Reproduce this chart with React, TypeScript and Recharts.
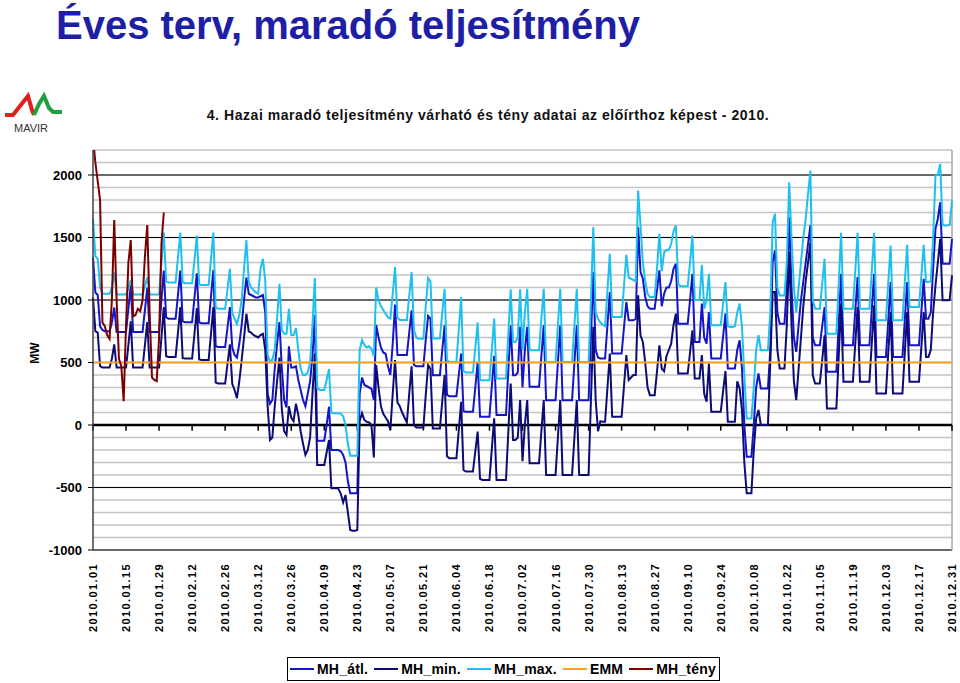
import React from "react";
import { CartesianGrid, Line, LineChart, ReferenceLine, XAxis, YAxis } from "recharts";

// napi értékek 2010.01.01 (péntek) – 2010.12.31, hetente tördelve (H–V)
const MH_MAX = [
  1650, 1350, 1330,
  1100, 1050, 1050, 1050, 1050, 1100, 1220,
  1045, 1045, 1045, 1045, 1045, 1100, 1160,
  1045, 1045, 1045, 1045, 1045, 1110, 1180,
  1045, 1045, 1045, 1045, 1045, 1300, 1540,
  1150, 1140, 1140, 1140, 1140, 1340, 1540,
  1140, 1135, 1135, 1135, 1135, 1320, 1515,
  1125, 1120, 1120, 1120, 1120, 1330, 1540,
  940, 930, 930, 930, 930, 1090, 1250,
  900, 850, 810, 880, 1000, 1250, 1480,
  1150, 1100, 1080, 1060, 1050, 1250, 1330,
  1150, 560, 510, 520, 600, 850, 1130,
  760, 730, 730, 930, 720, 720, 775,
  600, 450, 400, 400, 420, 500, 800,
  1176, 300, 280, 280, 280, 360, 447,
  100, 95, 95, 95, 90, 70, 0,
  -150, -245, -245, -245, -245, 600, 680,
  640, 620, 630, 610, 550, 1100, 1000,
  950, 920, 890, 860, 850, 1050, 1264,
  860, 840, 840, 840, 840, 1030, 1224,
  760, 700, 690, 690, 690, 950, 1176,
  1150, 692, 692, 692, 692, 900, 1090,
  520, 505, 505, 505, 505, 760, 1024,
  430, 420, 420, 420, 420, 620, 819,
  360, 359, 359, 359, 359, 600, 851,
  372, 372, 372, 372, 372, 730, 1085,
  665, 665, 700, 1085, 600, 900, 1090,
  598, 598, 598, 598, 598, 850, 1090,
  505, 505, 505, 505, 505, 800, 1090,
  505, 505, 505, 505, 505, 800, 1090,
  505, 505, 505, 505, 505, 1000, 1583,
  900, 850, 820, 800, 790, 1080, 1370,
  865, 865, 865, 865, 865, 1110, 1362,
  1180, 1170, 1160, 1150, 1875, 1600, 1300,
  1150, 1050, 1024, 1024, 1024, 1250, 1530,
  1230, 1380, 1400, 1400, 1450, 1550, 1596,
  1130, 1110, 1110, 1110, 1110, 1300, 1516,
  1000, 1000, 1000, 1282, 930, 1000, 1210,
  798, 798, 798, 798, 798, 970, 1144,
  790, 785, 785, 790, 900, 971, 785,
  400, 53, 53, 53, 300, 600, 718,
  598, 598, 598, 598, 900, 1623, 1689,
  1100, 1037, 1037, 1037, 1300, 1942, 1500,
  1100, 900, 1100, 1300, 1500, 1650, 1850,
  2035, 1000, 931, 931, 931, 1130, 1330,
  731, 731, 731, 731, 731, 1130, 1537,
  931, 931, 931, 931, 931, 1230, 1537,
  931, 931, 931, 931, 931, 1230, 1537,
  838, 838, 838, 838, 838, 1140, 1436,
  838, 838, 838, 838, 838, 1140, 1442,
  944, 944, 944, 944, 944, 1190, 1442,
  1144, 1144, 1150, 1500, 1995, 2000, 2088,
  1600, 1596, 1596, 1600, 1796,
];

const MH_ATL = [
  1340, 1060, 1040,
  790, 760, 750, 750, 750, 820, 940,
  745, 745, 745, 745, 745, 930, 1120,
  745, 745, 745, 745, 745, 920, 1100,
  745, 745, 745, 745, 745, 1000, 1235,
  860, 850, 850, 850, 850, 1040, 1235,
  830, 823, 823, 823, 823, 1020, 1214,
  820, 815, 815, 815, 815, 1030, 1240,
  630, 624, 624, 624, 624, 780, 943,
  620, 560, 540, 650, 800, 1000, 1180,
  1050, 1040, 1030, 1020, 1020, 1030, 1040,
  900, 250, 170, 200, 450, 650, 823,
  460, 200, 140, 630, 460, 460, 470,
  360, 280, 200, 150, 250, 350, 550,
  878, -125, -125, -125, -125, 0, 146,
  -200, -200, -200, -200, -210, -240, -300,
  -450, -545, -545, -545, -545, 250, 380,
  320, 310, 300, 290, 200, 800, 700,
  620, 580, 570, 470, 400, 650, 964,
  560, 560, 560, 560, 560, 740, 918,
  480, 470, 470, 470, 470, 680, 872,
  850, 399, 399, 399, 399, 600, 798,
  240, 230, 230, 230, 230, 400, 572,
  110, 106, 106, 106, 106, 300, 505,
  66, 66, 66, 66, 66, 310, 553,
  80, 80, 80, 80, 80, 440, 798,
  399, 399, 420, 785, 300, 600, 785,
  306, 306, 306, 306, 306, 550, 798,
  199, 199, 199, 199, 199, 500, 798,
  199, 199, 199, 199, 199, 500, 798,
  199, 199, 199, 199, 199, 700, 1224,
  600, 540, 532, 532, 532, 800, 1064,
  572, 572, 572, 572, 572, 780, 984,
  838, 838, 838, 850, 1583, 1224, 1170,
  1024, 950, 931, 931, 931, 1080, 1237,
  950, 1050, 1100, 1100, 1150, 1250, 1290,
  811, 811, 811, 811, 811, 1000, 1210,
  665, 665, 665, 971, 700, 650, 904,
  532, 532, 532, 532, 532, 710, 891,
  452, 452, 452, 452, 600, 678, 450,
  0, -253, -253, -253, 0, 300, 412,
  293, 293, 293, 293, 600, 1303, 1397,
  900, 811, 811, 811, 1100, 1662, 1100,
  700, 585, 800, 1000, 1150, 1300, 1450,
  1600, 700, 638, 638, 638, 790, 944,
  426, 426, 426, 426, 426, 820, 1210,
  638, 638, 638, 638, 638, 910, 1184,
  638, 638, 638, 638, 638, 920, 1210,
  545, 545, 545, 545, 545, 840, 1144,
  545, 545, 545, 545, 545, 840, 1144,
  638, 638, 638, 638, 638, 900, 1170,
  851, 851, 900, 1250, 1569, 1650, 1782,
  1290, 1290, 1290, 1290, 1490,
];

const MH_MIN = [
  1020, 750, 740,
  470, 460, 460, 460, 460, 530, 645,
  460, 460, 460, 460, 460, 640, 830,
  460, 460, 460, 460, 460, 640, 823,
  460, 460, 460, 460, 460, 700, 943,
  550, 545, 545, 545, 545, 740, 943,
  535, 532, 532, 532, 532, 730, 935,
  525, 520, 520, 520, 520, 730, 943,
  340, 332, 332, 332, 332, 490, 645,
  330, 280, 215, 350, 520, 700, 890,
  750, 740, 720, 710, 700, 720, 730,
  600, 150, -120, -100, 150, 350, 540,
  130, -50, -80, 150, 60, 30, 170,
  80, -50, -150, -240, -200, -100, 250,
  572, -319, -319, -319, -319, -220, -120,
  -505, -505, -505, -510, -550, -620, -560,
  -700, -840, -845, -845, -840, 30, 95,
  40, 25, 20, 0, -260, 480, 300,
  150, 90, 60, 30, -40, 250, 520,
  180, 150, 100, 60, 20, 250, 470,
  0, -20, -20, -20, -20, 240, 479,
  450, -27, -27, -27, -27, 190, 399,
  -250, -266, -266, -266, -266, -40, 186,
  -360, -372, -372, -372, -372, -210, -53,
  -430, -439, -439, -439, -439, -190, 53,
  -439, -439, -439, -439, -439, -50, 332,
  -120, -120, -100, 199, -290, 0, 199,
  -306, -306, -306, -306, -306, -50, 199,
  -399, -399, -399, -399, -399, -100, 199,
  -399, -399, -399, -399, -399, -100, 199,
  -399, -399, -399, -399, -399, 200, 785,
  200, -50, 30, 27, 27, 300, 572,
  66, 66, 66, 66, 66, 310, 559,
  360, 380, 400, 400, 1037, 718, 665,
  500, 300, 239, 239, 239, 430, 638,
  450, 430, 550, 600, 650, 800, 891,
  412, 412, 412, 412, 412, 580, 758,
  372, 372, 372, 560, 250, 186, 492,
  106, 106, 106, 106, 106, 270, 431,
  27, 27, 27, 27, 350, 293, 120,
  -300, -545, -545, -545, -200, 50, 120,
  0, 0, 0, 0, 500, 1064, 1064,
  600, 452, 452, 452, 800, 1383, 800,
  350, 199, 450, 700, 950, 1150, 1300,
  1460, 400, 332, 332, 332, 520, 718,
  133, 133, 133, 133, 133, 550, 971,
  346, 346, 346, 346, 346, 650, 944,
  346, 346, 346, 346, 346, 650, 958,
  253, 253, 253, 253, 253, 580, 904,
  253, 253, 253, 253, 253, 580, 904,
  346, 346, 346, 346, 346, 620, 904,
  545, 545, 600, 900, 1117, 1300, 1490,
  998, 998, 998, 1000, 1197,
];

// tény adatok január végéig
const MH_TENY = [
  2300, 2100, 1950, 1800, 820, 790, 720, 690, 1000, 1640, 1000,
  530, 470, 190, 800, 1300, 1480, 870, 880, 930, 910, 1000,
  1350, 1600, 900, 380, 360, 350, 700, 1450, 1700,
];

const EMM_LEVEL = 500;

const X_DOMAIN = [0, 364];
const X_TICK_DAYS = [
  0, 14, 28, 42, 56, 70, 84, 98, 112, 126, 140, 154, 168, 182,
  196, 210, 224, 238, 252, 266, 280, 294, 308, 322, 336, 350, 364,
];
const X_TICK_LABELS = [
  "2010.01.01", "2010.01.15", "2010.01.29", "2010.02.12", "2010.02.26",
  "2010.03.12", "2010.03.26", "2010.04.09", "2010.04.23", "2010.05.07",
  "2010.05.21", "2010.06.04", "2010.06.18", "2010.07.02", "2010.07.16",
  "2010.07.30", "2010.08.13", "2010.08.27", "2010.09.10", "2010.09.24",
  "2010.10.08", "2010.10.22", "2010.11.05", "2010.11.19", "2010.12.03",
  "2010.12.17", "2010.12.31",
];

const Y_DOMAIN = [-1000, 2200];
const Y_TICKS = [
  -1000, -900, -800, -700, -600, -500, -400, -300, -200, -100, 0,
  100, 200, 300, 400, 500, 600, 700, 800, 900, 1000, 1100, 1200,
  1300, 1400, 1500, 1600, 1700, 1800, 1900, 2000, 2100, 2200,
];
const Y_MAJOR = [-1000, -500, 1000, 1500, 2000];

const COLORS = {
  atl: "#1414c8",
  min: "#0c0c74",
  max: "#1ec0f0",
  emm: "#f5a21e",
  teny: "#7a0000",
};

const LEGEND = [
  { name: "MH_átl.", color: COLORS.atl },
  { name: "MH_min.", color: COLORS.min },
  { name: "MH_max.", color: COLORS.max },
  { name: "EMM", color: COLORS.emm },
  { name: "MH_tény", color: COLORS.teny },
];

const chartData = MH_MAX.map((_, day) => ({
  day,
  atl: MH_ATL[day],
  min: MH_MIN[day],
  max: MH_MAX[day],
}));
const tenyData = MH_TENY.map((teny, day) => ({ day, teny }));
const emmData = X_DOMAIN.map((day) => ({ day, emm: EMM_LEVEL }));

const FONT = '"Liberation Sans", Arial, sans-serif';

function XTick(props: any) {
  const { x, y, payload } = props;
  const i = X_TICK_DAYS.indexOf(payload.value);
  return (
    <g transform={`translate(${x},${y + 13})`}>
      <text
        transform="rotate(-90)"
        textAnchor="end"
        dy="0.36em"
        fontSize={11}
        fontWeight="bold"
        letterSpacing={1.4}
        fill="#000"
        fontFamily={FONT}
      >
        {X_TICK_LABELS[i]}
      </text>
    </g>
  );
}

function YTick(props: any) {
  const { x, y, payload } = props;
  if (payload.value % 500 !== 0) return <g />;
  return (
    <g>
      <line x1={x - 5} x2={x} y1={y} y2={y} stroke="#000" />
      <text
        x={x - 11}
        y={y}
        dy="0.36em"
        textAnchor="end"
        fontSize={13}
        fontWeight="bold"
        fill="#000"
        fontFamily={FONT}
      >
        {payload.value}
      </text>
    </g>
  );
}

function Logo() {
  return (
    <svg width={70} height={45} style={{ position: "absolute", left: 0, top: 92 }}>
      <polyline
        points="5,23 13,23 20,14 28,4 32,18 34,23"
        fill="none"
        stroke="#e02020"
        strokeWidth={4}
      />
      <polyline
        points="34,23 39,12 44,4 49,16 53,20 62,20"
        fill="none"
        stroke="#20a040"
        strokeWidth={4}
      />
      <text x={14} y={40} fontSize={11} fill="#333" fontFamily={FONT}>
        MAVIR
      </text>
    </svg>
  );
}

export default function App() {
  return (
    <div
      style={{
        position: "absolute",
        left: 0,
        top: 0,
        width: 960,
        height: 683,
        background: "#fff",
        fontFamily: FONT,
        overflow: "hidden",
      }}
    >
      <div
        style={{
          position: "absolute",
          left: 56,
          top: 3,
          fontSize: 40,
          lineHeight: "44px",
          fontWeight: "bold",
          color: "#1e1ea6",
          whiteSpace: "nowrap",
        }}
      >
        Éves terv, maradó teljesítmény
      </div>

      <Logo />

      <div
        style={{
          position: "absolute",
          left: 0,
          width: 976,
          top: 107,
          textAlign: "center",
          fontSize: 14,
          letterSpacing: 0.55,
          fontWeight: "bold",
          color: "#111",
          whiteSpace: "nowrap",
        }}
      >
        4. Hazai maradó teljesítmény várható és tény adatai az előírthoz képest - 2010.
      </div>

      <div
        style={{
          position: "absolute",
          left: 24,
          top: 346,
          fontSize: 12,
          fontWeight: "bold",
          transform: "rotate(-90deg)",
          transformOrigin: "center",
        }}
      >
        MW
      </div>

      <div style={{ position: "absolute", left: 0, top: 0 }}>
        <LineChart
          width={960}
          height={683}
          data={chartData}
          margin={{ top: 150, right: 8, left: 33, bottom: 43 }}
        >
          <CartesianGrid vertical={false} stroke="#c4c4c4" strokeWidth={1.5} />
          <XAxis
            dataKey="day"
            type="number"
            domain={X_DOMAIN}
            ticks={X_TICK_DAYS}
            interval={0}
            axisLine={false}
            tickLine={false}
            tickSize={0}
            tickMargin={0}
            height={90}
            tick={XTick}
          />
          <YAxis
            type="number"
            domain={Y_DOMAIN}
            ticks={Y_TICKS}
            interval={0}
            allowDataOverflow
            width={60}
            axisLine={{ stroke: "#404040", strokeWidth: 1.5 }}
            tickLine={false}
            tickSize={0}
            tickMargin={0}
            tick={YTick}
          />
          {Y_MAJOR.map((v) => (
            <ReferenceLine key={`m${v}`} y={v} stroke="#000" strokeWidth={1} />
          ))}
          <ReferenceLine x={X_DOMAIN[1]} stroke="#a8a8a8" strokeWidth={1.5} />
          <ReferenceLine y={0} stroke="#000" strokeWidth={2.5} />
          {X_TICK_DAYS.map((d) => (
            <ReferenceLine
              key={d}
              segment={[
                { x: d, y: 0 },
                { x: d, y: -45 },
              ]}
              stroke="#000"
              strokeWidth={1.5}
            />
          ))}
          <Line type="linear" dataKey="atl" stroke={COLORS.atl} strokeWidth={2} dot={false} isAnimationActive={false} />
          <Line type="linear" dataKey="min" stroke={COLORS.min} strokeWidth={2} dot={false} isAnimationActive={false} />
          <Line type="linear" dataKey="max" stroke={COLORS.max} strokeWidth={2} dot={false} isAnimationActive={false} />
          <Line type="linear" data={emmData} dataKey="emm" stroke={COLORS.emm} strokeWidth={2.2} dot={false} isAnimationActive={false} />
          <Line type="linear" data={tenyData} dataKey="teny" stroke={COLORS.teny} strokeWidth={2} dot={false} isAnimationActive={false} />
        </LineChart>
      </div>

      <div
        style={{
          position: "absolute",
          left: 287,
          top: 657,
          width: 433,
          height: 24,
          border: "1.5px solid #000",
          display: "flex",
          alignItems: "center",
          justifyContent: "space-between",
          fontSize: 14,
          letterSpacing: 0.2,
          fontWeight: "bold",
          boxSizing: "border-box",
          padding: "0 3px 0 2px",
        }}
      >
        {LEGEND.map((l) => (
          <span key={l.name} style={{ display: "flex", alignItems: "center", whiteSpace: "nowrap" }}>
            <span style={{ display: "inline-block", width: 24, height: 2, background: l.color, marginRight: 3 }} />
            {l.name}
          </span>
        ))}
      </div>
    </div>
  );
}
